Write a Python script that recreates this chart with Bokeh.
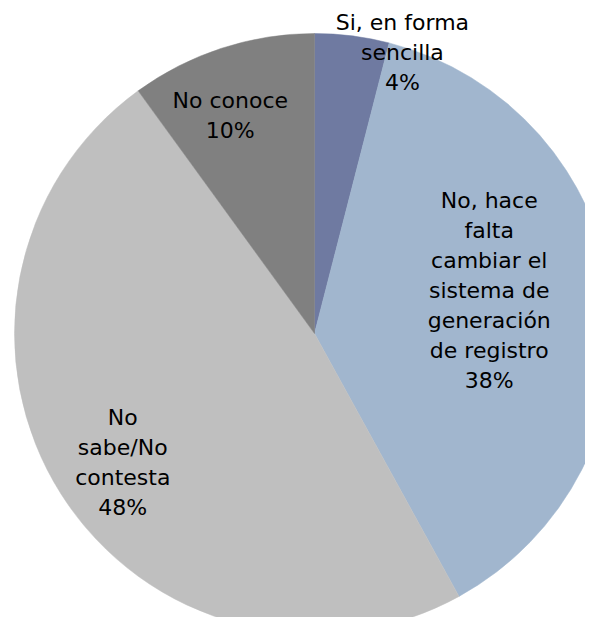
import math
from bokeh.plotting import figure
from bokeh.models import Range1d, ColumnDataSource
from bokeh.core.properties import value
from bokeh.embed import file_html
from bokeh.resources import INLINE

# ---- data ----
categories = ["Si, en forma sencilla",
              "No, hace falta cambiar el sistema de generación de registro",
              "No sabe/No contesta",
              "No conoce"]
label_lines = ["Si, en forma\nsencilla",
               "No, hace\nfalta\ncambiar el\nsistema de\ngeneración\nde registro",
               "No\nsabe/No\ncontesta",
               "No conoce"]
percent = [4, 38, 48, 10]
colors = ["#6F7AA1", "#A1B6CE", "#BFBFBF", "#808080"]

# ---- layout (styles) ----
W, H = 585, 617
CX, CY, R = 314, 284, 300
label_rfrac = [0.98, 0.60, 0.77, 0.78]
label_angle_shift = [10.2, -6.7, -1.5, -3.1]  # degrees, clockwise from slice middle

total = float(sum(percent))
starts, ends, lx, ly, texts = [], [], [], [], []
cum = 0.0
for i, v in enumerate(percent):
    a0 = cum / total
    a1 = (cum + v) / total
    cum += v
    starts.append(math.pi / 2 - a0 * 2 * math.pi)
    ends.append(math.pi / 2 - a1 * 2 * math.pi)
    mid = math.radians((a0 + a1) / 2 * 360 + label_angle_shift[i])
    r = label_rfrac[i] * R
    lx.append(CX + r * math.sin(mid))
    ly.append(CY + r * math.cos(mid))
    texts.append(f"{label_lines[i]}\n{v}%")

src = ColumnDataSource(dict(x=[CX] * 4, y=[CY] * 4, start=starts, end=ends,
                            color=colors, cat=categories))
lsrc = ColumnDataSource(dict(x=lx, y=ly, t=texts))

p = figure(width=W, height=H, output_backend="svg", toolbar_location=None,
           x_range=Range1d(0, W), y_range=Range1d(0, H),
           min_border=0, match_aspect=False)
p.axis.visible = False
p.grid.visible = False
p.outline_line_color = None
p.background_fill_color = "white"
p.border_fill_color = "white"

p.wedge(x="x", y="y", radius=R, start_angle="start", end_angle="end",
        direction="clock", fill_color="color", line_color="color",
        line_width=0.5, source=src)

p.text(x="x", y="y", text="t", source=lsrc, text_align="center",
       text_baseline="middle", text_font=value("DejaVu Sans"),
       text_font_size="22px", text_color="#000000", text_line_height=1.2)

open("out.html", "w").write(file_html(p, INLINE))
